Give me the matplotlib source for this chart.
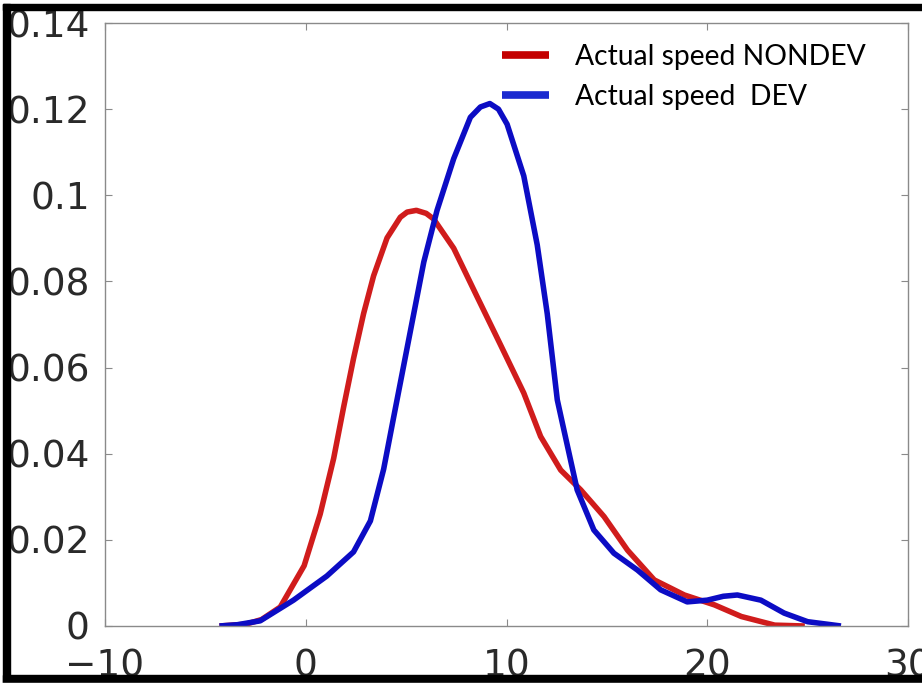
import matplotlib.pyplot as plt
from matplotlib.patches import Rectangle

# Data (density curves)
nondev_x = [-4.3, -3.0, -2.2, -1.27, -0.08, 0.72, 1.39, 1.89, 2.38, 2.88, 3.38, 4.05,
            4.71, 5.05, 5.51, 6.0, 6.37, 7.37, 8.53, 9.7, 10.86, 11.7, 12.7, 13.7,
            14.86, 16.03, 17.36, 18.86, 20.36, 21.7, 23.36, 24.86]
nondev_y = [0.0, 0.0004, 0.0015, 0.0044, 0.014, 0.026, 0.0389, 0.0509, 0.0621, 0.0725,
            0.0813, 0.0901, 0.0949, 0.0961, 0.0965, 0.0958, 0.0945, 0.0877, 0.0765,
            0.0653, 0.0541, 0.044, 0.0362, 0.0316, 0.0254, 0.0176, 0.0107, 0.0072,
            0.0049, 0.0022, 0.0002, 0.0]

dev_x = [-4.3, -3.4, -2.27, -0.61, 1.05, 2.38, 3.22, 3.88, 4.38, 4.88, 5.38, 5.88,
         6.54, 7.37, 8.2, 8.7, 9.17, 9.6, 10.03, 10.86, 11.53, 12.03, 12.53, 12.86,
         13.52, 14.35, 15.35, 16.52, 17.68, 19.0, 20.0, 20.8, 21.5, 22.67, 23.83,
         25.0, 26.66]
dev_y = [0.0, 0.0003, 0.0012, 0.006, 0.0116, 0.0172, 0.0244, 0.0364, 0.0485, 0.0605,
         0.0725, 0.0845, 0.0965, 0.1085, 0.1181, 0.1205, 0.1213, 0.1200, 0.1165,
         0.1045, 0.0885, 0.0725, 0.0525, 0.0455, 0.0316, 0.0223, 0.0169, 0.013,
         0.0084, 0.0056, 0.006, 0.0069, 0.0072, 0.006, 0.003, 0.001, 0.0]

labels = ['Actual speed NONDEV', 'Actual speed  DEV']
xticks = [-10, 0, 10, 20, 30]
yticks = [0, 0.02, 0.04, 0.06, 0.08, 0.1, 0.12, 0.14]
yticklabels = ['0', '0.02', '0.04', '0.06', '0.08', '0.1', '0.12', '0.14']

W, H = 922, 685
fig = plt.figure(figsize=(W / 100, H / 100), dpi=100)
ax = fig.add_axes([105 / W, (H - 626) / H, 803 / W, 603 / H])

red = '#d01c1c'
blue = '#0c0cc4'
ax.plot(nondev_x, nondev_y, color=red, lw=4.0, solid_joinstyle='round',
        solid_capstyle='butt', label=labels[0])
ax.plot(dev_x, dev_y, color=blue, lw=4.0, solid_joinstyle='round',
        solid_capstyle='butt', label=labels[1])

ax.set_xlim(-10, 30)
ax.set_ylim(0, 0.14)
ax.set_xticks(xticks)
ax.set_yticks(yticks)
ax.set_yticklabels(yticklabels)

for s in ax.spines.values():
    s.set_color('#8a8a8a')
    s.set_linewidth(1.0)
ax.tick_params(direction='in', length=5, width=0.8, color='#8a8a8a',
               labelsize=27, labelcolor='#2a2a2a', top=True, right=True)
ax.tick_params(axis='y', pad=11)
ax.tick_params(axis='x', pad=16)

leg = ax.legend(loc='upper left', bbox_to_anchor=(502 / W, 1 - 44 / H),
                bbox_transform=fig.transFigure, frameon=False,
                prop={'family': 'Lato', 'size': 20.3},
                handlelength=1.67, handletextpad=0.92, labelspacing=0.48,
                borderpad=0, borderaxespad=0)
leg.legend_handles[0].set_color('#c40000')
leg.legend_handles[1].set_color('#1a2ad0')
for h in leg.legend_handles:
    h.set_linewidth(5.5)

# thick black frame on left, top and bottom
frame_kw = dict(transform=fig.transFigure, color='black', zorder=20)
fig.patches.append(Rectangle((3 / W, 0.3 / H), 7 / W, (H - 4.3) / H, **frame_kw))
fig.patches.append(Rectangle((3 / W, 1 - 10 / H), 1 - 3 / W, 6 / H, **frame_kw))
fig.patches.append(Rectangle((3 / W, 2 / H), 1 - 3 / W, 8 / H, **frame_kw))
fig.patches.append(Rectangle((0, 0), 1, 2 / H, transform=fig.transFigure,
                             color='white', zorder=21))

fig.savefig('out.png', dpi=100)
